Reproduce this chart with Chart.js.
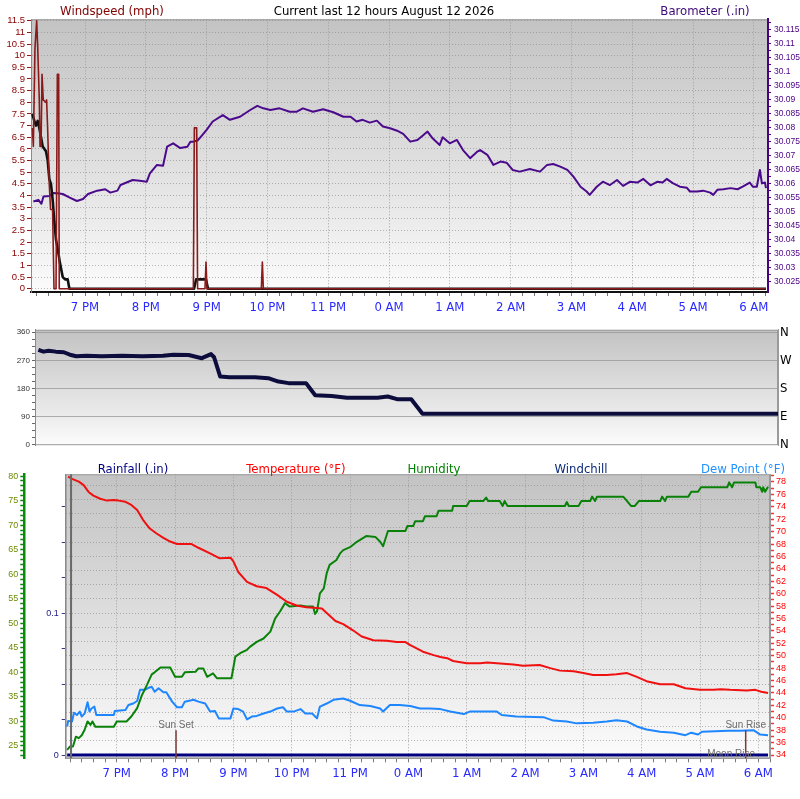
<!DOCTYPE html>
<html><head><meta charset="utf-8">
<script src="https://cdn.jsdelivr.net/npm/chart.js@4.4.1/dist/chart.umd.min.js"></script>
<style>
html,body{margin:0;padding:0;background:#fff;}
body{position:relative;width:800px;height:799px;overflow:hidden;}
canvas{position:absolute;left:0;}
.t{position:absolute;white-space:nowrap;transform:translate(-50%,-50%);font:13px 'Liberation Sans Narrow','DejaVu Sans Condensed','Liberation Sans',Arial,sans-serif;line-height:1;}
</style></head><body>
<canvas id="c1" width="800" height="320" style="top:0"></canvas>
<canvas id="c2" width="800" height="135" style="top:320px"></canvas>
<canvas id="c3" width="800" height="344" style="top:455px"></canvas>
<div class="t" style="left:112px;top:10px;color:#800000">Windspeed (mph)</div>
<div class="t" style="left:384px;top:10px;color:#000">Current last 12 hours August 12 2026</div>
<div class="t" style="left:705px;top:10px;color:#3c0a78">Barometer (.in)</div>
<div class="t" style="left:133px;top:468px;color:#000080">Rainfall (.in)</div>
<div class="t" style="left:296px;top:468px;color:#ff0000">Temperature (°F)</div>
<div class="t" style="left:434px;top:468px;color:#008000">Humidity</div>
<div class="t" style="left:581px;top:468px;color:#0a2a7a">Windchill</div>
<div class="t" style="left:743px;top:468px;color:#1e90ff">Dew Point (°F)</div>
<script>
// ---------- DATA (times are minutes after 18:00) ----------
const hourTicks=[60,120,180,240,300,360,420,480,540,600,660,720];
const hourLabels=['7 PM','8 PM','9 PM','10 PM','11 PM','0 AM','1 AM','2 AM','3 AM','4 AM','5 AM','6 AM'];

const windTicks=[0,0.5,1,1.5,2,2.5,3,3.5,4,4.5,5,5.5,6,6.5,7,7.5,8,8.5,9,9.5,10,10.5,11,11.5];
const baroTicks=[30.025,30.03,30.035,30.04,30.045,30.05,30.055,30.06,30.065,30.07,30.075,30.08,30.085,30.09,30.095,30.1,30.105,30.11,30.115];

const gustTime=[8,9,10.6,12.3,13.3,14.9,15.6,16.6,17.6,18.8,21.2,22.1,23.1,24.7,26,28,29.4,31.4,32.7,34,34.6,166.9,167.9,170.2,171.1,178.4,179.4,180.4,234,235,236,732];
const gustVal=[6.9,6.1,10.3,11.5,10.4,8.1,6.1,6.1,9.2,8.1,8.0,8.1,6.9,4.5,3.4,3.4,0,0,9.2,9.2,0,0,6.9,6.9,0,0,1.15,0,0,1.15,0,0];

const avgTime=[8,10,11.6,13.3,14.9,16.6,18.2,19.9,21.5,23.2,24.8,26.4,28.1,29.7,31.4,33.1,35.3,38,40.3,42.9,44.6,167.6,169.6,179.4,181.4,732];
const avgVal=[7.5,7.2,7.0,7.2,6.9,6.5,6.1,6.0,5.9,5.5,4.7,4.5,3.8,2.9,2.1,1.7,1.1,0.5,0.4,0.4,0,0,0.4,0.4,0,0];

const baroTime=[9,14,17,19,25,28,33,38,45,52,58,63,72,80,85,92,95,101,107,114,121,124,131,137,141,147,154,161,164,167,171,173,180,186,196,203,213,223,230,236,243,252,262,269,275,285,295,305,315,322,328,334,341,348,354,361,368,374,381,388,394,398,403,410,413,417,420,427,433,440,447,450,457,463,470,476,482,489,499,509,516,522,529,536,542,549,555,558,565,571,578,585,591,598,605,611,618,625,630,634,640,647,654,657,664,670,677,680,684,690,697,704,709,716,719,723,726,728,731,732];
const baroVal=[30.0537,30.0543,30.0529,30.0555,30.0557,30.0568,30.0567,30.0564,30.0551,30.0539,
30.0546,30.0564,30.0576,30.0581,30.0569,30.0576,30.0596,30.0605,30.0614,30.0611,
30.0608,30.0638,30.0668,30.0665,30.0733,30.0745,30.0728,30.0733,30.0751,30.0751,
30.0755,30.0763,30.0793,30.0823,30.0846,30.0829,30.0840,30.0864,30.0879,30.0870,
30.0864,30.0870,30.0858,30.0858,30.0870,30.0858,30.0867,30.0856,30.0840,30.0840,
30.0823,30.0829,30.0819,30.0826,30.0805,30.0799,30.0790,30.0779,30.0751,30.0757,
30.0775,30.0787,30.0763,30.0739,30.0767,30.0754,30.0745,30.0757,30.0721,30.0692,
30.0715,30.0721,30.0704,30.0668,30.0680,30.0676,30.0650,30.0644,30.0653,30.0644,
30.0668,30.0671,30.0662,30.0650,30.0626,30.0590,30.0573,30.0561,30.0590,30.0608,
30.0596,30.0614,30.0593,30.0608,30.0605,30.0618,30.0595,30.0608,30.0605,30.0618,
30.0603,30.0590,30.0586,30.0573,30.0573,30.0576,30.0569,30.0561,30.0579,30.0581,
30.0585,30.0581,30.0590,30.0605,30.0590,30.0590,30.0650,30.0602,30.0605,30.0585];

const dirTicks=[0,90,180,270,360];
const compass=['N','E','S','W','N'];
const dirTime=[10,15,20,27,35,42,47,57,72,92,112,132,142,157,170,179,182,188,197,222,235,245,255,272,281,297,312,342,352,362,375,386,734];
const dirVal=[304,298,301,298,296,287,283,285,283,285,283,285,288,287,277,290,280,218,216,216,213,202,197,197,158,156,150,150,154,145,145,99,99];

const humTicks=[25,30,35,40,45,50,55,60,65,70,75,80];
const tempTicks=[34,36,38,40,42,44,46,48,50,52,54,56,58,60,62,64,66,68,70,72,74,76,78];
const rainTicks=[0,0.025,0.05,0.075,0.1,0.125,0.15,0.175];
const rainLabels=[0,0.1];
const rainGrid=[0.01,0.02,0.03,0.04,0.05,0.06,0.07,0.08,0.09,0.1,0.11,0.12,0.13,0.14,0.15,0.16,0.17,0.18,0.19];

const tempTime=[10,14,21,26,31,36,43,50,57,62,69,75,81,87,94,101,108,115,122,129,137,144,156,166,177,180,185,194,204,214,225,235,245,255,266,271,278,285,293,303,312,324,338,348,357,362,375,386,393,400,406,420,434,441,451,468,478,495,506,516,530,540,550,564,574,585,595,605,619,633,645,660,674,681,691,708,717,723,730];
const tempVal=[78.85,78.5,78.05,77.5,76.4,75.8,75.3,75.0,75.1,75.0,74.8,74.3,73.5,71.9,70.5,69.7,69.0,68.4,68.0,68.0,68.0,67.4,66.5,65.7,65.8,65.2,63.5,61.9,61.2,60.9,59.8,58.7,58.1,57.8,57.7,57.6,56.6,55.6,55.1,54.1,53.1,52.5,52.4,52.2,52.2,51.7,50.65,50.1,49.8,49.6,49.15,48.8,48.8,48.9,48.8,48.6,48.4,48.5,48.0,47.6,47.5,47.2,46.9,46.9,47.0,47.2,46.6,45.9,45.4,45.4,44.75,44.5,44.5,44.6,44.5,44.4,44.5,44.2,44.0];

const humTime=[9,12,15,18,21,24,27,30,33,35,38,57,60,70,75,81,86,91,96,99,105,115,120,127,130,141,144,149,153,159,163,178,182,187,194,197,204,211,218,223,228,233,238,249,255,262,264,266,269,273,276,279,286,290,293,300,307,317,326,331,334,339,357,359,365,367,375,377,389,391,405,406,420,423,437,440,442,454,457,459,462,521,523,525,535,538,547,549,552,554,581,585,589,593,597,619,621,624,626,648,651,658,661,688,690,693,695,717,718,722,724,725,727,730];
const humVal=[24.2,24.9,24.9,26.9,26.6,27.2,28.3,30.0,29.3,30.0,28.9,28.9,30.0,30.0,31.0,32.7,35.4,37.4,39.6,40.0,41.0,41.0,39.1,39.1,40.0,40.1,40.8,40.8,39.1,39.8,38.8,38.8,43.2,43.9,44.6,45.2,46.2,46.9,48.3,51.0,52.4,54.1,53.4,53.6,53.4,53.4,51.9,52.4,56.1,57.1,60.2,61.9,62.9,64.3,64.9,65.5,66.6,67.8,67.6,66.6,65.7,68.8,68.8,69.8,69.8,70.8,70.8,71.8,71.8,72.9,72.9,73.9,73.9,74.9,74.9,75.6,74.9,74.9,73.9,74.9,73.9,73.9,74.7,73.9,73.9,74.9,74.9,75.8,74.9,75.8,75.8,74.9,73.9,73.9,74.9,74.9,75.8,74.9,75.8,75.8,76.8,76.8,77.7,77.7,78.7,77.7,78.7,78.7,77.7,77.7,76.8,77.7,76.8,77.8];

const dewTime=[9,10,14,16,19,22,24,27,30,32,34,37,39,57,58,69,72,77,81,84,89,93,96,99,103,108,111,117,122,127,130,139,144,151,156,161,165,177,180,185,190,194,199,204,211,218,225,231,235,242,249,254,261,266,269,276,283,293,300,310,321,331,334,341,351,362,372,382,393,403,417,423,451,456,471,499,509,523,533,550,564,574,585,595,605,619,633,645,651,658,662,689,701,715,722,730];
const dewVal=[38.6,39.5,39.4,40.8,40.45,41.0,40.2,40.7,42.5,41.0,41.5,41.8,40.45,40.45,41.1,41.25,42.05,42.3,42.7,44.5,44.5,44.85,45.0,44.2,44.75,44.1,44.1,42.6,41.7,41.7,42.6,42.9,42.6,42.3,41.0,41.1,39.9,39.9,41.5,41.4,41.0,39.75,40.2,40.3,40.7,41.0,41.5,41.7,41.0,41.0,41.4,40.7,40.7,39.9,41.8,42.3,42.9,43.1,42.75,42.05,41.9,41.5,41.0,42.05,42.05,41.9,41.5,41.5,41.4,41.0,40.6,41.0,41.0,40.45,40.2,40.1,39.55,39.4,39.1,39.2,39.4,39.6,39.4,38.6,38.1,37.75,37.6,37.2,37.6,37.3,37.75,37.9,37.9,38.0,37.3,37.2];

const rainTime=[9,730];
const rainVal=[0,0];

const eventNames=['Sun Set','Sun Rise'];
const eventTimes=[121,707];
const moonName='Moon Rise';
const moonTime=692;
const rainStartTime=13;

// ---------- HELPERS ----------
const NARROW="'Liberation Sans Narrow','DejaVu Sans Condensed','Liberation Sans',Arial,sans-serif";
Chart.defaults.font.family="'Liberation Sans',Arial,sans-serif";
const pts=(t,v)=>t.map((x,i)=>({x:x,y:v[i]}));
const near=(a,v)=>a.findIndex(q=>Math.abs(q-v)<1e-7);
const GRID='rgba(135,135,135,0.6)';

const bgPlugin={id:'bg',beforeDraw(chart){
  const {ctx,chartArea:a}=chart;
  const g=ctx.createLinearGradient(0,a.top,0,a.bottom);
  g.addColorStop(0,'#c3c3c3');g.addColorStop(0.4,'#d8d8d8');g.addColorStop(0.75,'#ececec');g.addColorStop(1,'#fcfcfc');
  ctx.save();ctx.fillStyle=g;ctx.fillRect(a.left,a.top,a.right-a.left,a.bottom-a.top);
  ctx.strokeStyle='#9a9a9a';ctx.lineWidth=1;ctx.strokeRect(a.left+0.5,a.top+0.5,a.right-a.left-1,a.bottom-a.top-1);
  ctx.restore();}};

function timeAxis(min,max,h,borderColor,borderWidth){
  return {type:'linear',min:min,max:max,
    afterBuildTicks:s=>{const t=[];for(let v=Math.ceil(min/12)*12;v<=max;v+=12)t.push({value:v});s.ticks=t;},
    afterFit:s=>{s.height=h;},
    ticks:{autoSkip:false,maxRotation:0,minRotation:0,padding:4,color:'#2a2aff',font:{size:13,family:NARROW},
      callback:v=>{const i=hourTicks.indexOf(v);return i<0?'':hourLabels[i];}},
    grid:{color:c=>(c.tick&&hourTicks.indexOf(c.tick.value)>=0)?'rgba(150,150,150,0.85)':'rgba(0,0,0,0)',tickColor:'#777',tickLength:4,lineWidth:1},
    border:{color:borderColor,width:borderWidth,dash:[1,2]}};
}
const common={responsive:false,animation:false,events:[],
  plugins:{legend:{display:false},tooltip:{enabled:false},title:{display:false}},
  elements:{point:{radius:0},line:{tension:0,borderJoinStyle:'round'}}};

// ---------- TOP: windspeed + barometer ----------
new Chart(document.getElementById('c1'),{type:'line',plugins:[bgPlugin],
  data:{datasets:[
    {data:pts(gustTime,gustVal),yAxisID:'yw',borderColor:'#8b1a1a',borderWidth:1.6,order:0},
    {data:pts(avgTime,avgVal),yAxisID:'yw',borderColor:'#111',borderWidth:2.6,order:1},
    {data:pts(baroTime,baroVal),yAxisID:'yb',borderColor:'#4b0a8c',borderWidth:2,order:2}
  ]},
  options:Object.assign({},common,{layout:{padding:{top:19.3,left:0,right:0,bottom:0}},
    scales:{
      x:timeAxis(6.7,734,28,'#111',2),
      yw:{position:'left',min:-0.14,max:11.56,
        afterBuildTicks:s=>{s.ticks=windTicks.map(v=>({value:v}));},
        afterFit:s=>{s.width=31;},
        ticks:{autoSkip:false,color:'#8b0000',font:{size:9.5},padding:2,callback:v=>String(v)},
        grid:{color:GRID,tickColor:'#8b1a1a',tickLength:4},
        border:{color:'#8a8a8a',width:1,dash:[1,2]}},
      yb:{position:'right',min:30.0214,max:30.1188,
        afterBuildTicks:s=>{const t=[];baroTicks.forEach(v=>{t.push({value:v});if(v+0.0025<30.1188)t.push({value:v+0.0025});});s.ticks=t;},
        afterFit:s=>{s.width=32;},
        ticks:{autoSkip:false,color:'#4b0082',font:{size:8.5},padding:3,callback:v=>{const i=near(baroTicks,v);return i<0?'':String(+baroTicks[i].toFixed(3));}},
        grid:{drawOnChartArea:false,tickColor:'#4b0082',tickLength:3},
        border:{color:'#4b0082',width:2}}
    }})
});

// ---------- MIDDLE: wind direction ----------
new Chart(document.getElementById('c2'),{type:'line',plugins:[bgPlugin],
  data:{datasets:[{data:pts(dirTime,dirVal),yAxisID:'yd',borderColor:'#0d0d3d',borderWidth:4}]},
  options:Object.assign({},common,{layout:{padding:{top:6.7,bottom:9.3,left:0,right:0}},
    scales:{
      x:{type:'linear',min:6.7,max:734,display:false},
      yd:{position:'left',min:-2,max:368,
        afterBuildTicks:s=>{const t=[];dirTicks.forEach((v,i)=>{t.push({value:v});if(i<dirTicks.length-1){t.push({value:v+22.5});t.push({value:v+45});t.push({value:v+67.5});}});s.ticks=t;},
        afterFit:s=>{s.width=35;},
        ticks:{autoSkip:false,color:'#333',font:{size:8},padding:2,callback:v=>{const i=dirTicks.indexOf(v);return i<0?'':String(v);}},
        grid:{color:c=>(c.tick&&dirTicks.indexOf(c.tick.value)>0)?'rgba(150,150,150,0.75)':'rgba(0,0,0,0)',tickColor:'#666',tickLength:3},
        border:{color:'#8a8a8a',width:1}},
      yc:{position:'right',min:-2,max:368,
        afterBuildTicks:s=>{s.ticks=dirTicks.map(v=>({value:v}));},
        afterFit:s=>{s.width=22;},
        ticks:{autoSkip:false,color:'#000',font:{size:13,family:NARROW},padding:2,callback:v=>{const i=dirTicks.indexOf(v);return i<0?'':compass[i];}},
        grid:{drawOnChartArea:false,drawTicks:false},
        border:{color:'#9a9a9a',width:1}}
    }})
});

// ---------- BOTTOM: rain, temperature, humidity, dew point ----------
const markerPlugin={id:'markers',afterDatasetsDraw(chart){
  const {ctx,chartArea:a,scales:{x}}=chart;
  ctx.save();
  const xs=x.getPixelForValue(rainStartTime);
  ctx.strokeStyle='#6a6a6a';ctx.lineWidth=2;ctx.beginPath();ctx.moveTo(xs,a.top);ctx.lineTo(xs,a.bottom);ctx.stroke();
  ctx.font="10px 'Liberation Sans',Arial,sans-serif";ctx.textAlign='center';ctx.textBaseline='middle';
  eventNames.forEach((n,i)=>{const px=x.getPixelForValue(eventTimes[i]);
    ctx.strokeStyle='#7a3838';ctx.lineWidth=1.5;ctx.beginPath();ctx.moveTo(px,a.bottom-28);ctx.lineTo(px,a.bottom);ctx.stroke();
    ctx.fillStyle='#6e6e6e';ctx.fillText(n,px,a.bottom-33);});
  const pm=x.getPixelForValue(moonTime);
  ctx.fillStyle='#6e6e6e';ctx.fillText(moonName,pm,a.bottom-4);
  ctx.restore();}};

new Chart(document.getElementById('c3'),{type:'line',plugins:[bgPlugin,markerPlugin],
  data:{datasets:[
    {data:pts(rainTime,rainVal),yAxisID:'yr',borderColor:'#000080',borderWidth:3,order:0},
    {data:pts(tempTime,tempVal),yAxisID:'yt',borderColor:'#f01010',borderWidth:2,order:1},
    {data:pts(humTime,humVal),yAxisID:'yh',borderColor:'#0a820a',borderWidth:2,order:2},
    {data:pts(dewTime,dewVal),yAxisID:'yt',borderColor:'#1e86ff',borderWidth:2,order:3}
  ]},
  options:Object.assign({},common,{layout:{padding:{top:19.3,left:0,right:0,bottom:0}},
    scales:{
      x:timeAxis(7.5,732,40.7,'#9a9a9a',1),
      yg:{position:'left',weight:-1,min:-0.0023,max:0.1977,
        afterBuildTicks:s=>{s.ticks=rainGrid.map(v=>({value:v}));},
        afterFit:s=>{s.width=0;},
        ticks:{display:false},grid:{color:GRID,drawTicks:false},border:{display:false,dash:[1,2]}},
      yr:{position:'left',weight:0,min:-0.0023,max:0.1977,
        afterBuildTicks:s=>{s.ticks=rainTicks.map(v=>({value:v}));},
        afterFit:s=>{s.width=41.4;},
        ticks:{autoSkip:false,color:'#1a1a80',font:{size:9},padding:3,callback:v=>{const i=near(rainLabels,v);return i<0?'':String(rainLabels[i]);}},
        grid:{drawOnChartArea:false,tickColor:'#3a3a8a',tickLength:4},
        border:{color:'#8a8a8a',width:1}},
      yh:{position:'left',weight:1,min:22.49,max:80.35,
        afterBuildTicks:s=>{const t=[];for(let v=23;v<=80;v++)t.push({value:v});s.ticks=t;},
        afterFit:s=>{s.width=24.3;},
        ticks:{autoSkip:false,color:'#6b8a00',font:{size:9},padding:2,callback:v=>humTicks.indexOf(v)<0?'':String(v)},
        grid:{drawOnChartArea:false,tickColor:'#0a8a0a',tickLength:4,tickWidth:1.5},
        border:{color:'#0a8a0a',width:2.5}},
      yt:{position:'right',min:33.47,max:79.24,
        afterBuildTicks:s=>{const t=[];tempTicks.forEach(v=>{t.push({value:v});if(v+1<79.24)t.push({value:v+1});});s.ticks=t;},
        afterFit:s=>{s.width=30;},
        ticks:{autoSkip:false,color:'#ff0000',font:{size:9},padding:2,callback:v=>tempTicks.indexOf(v)<0?'':String(v)},
        grid:{drawOnChartArea:false,tickColor:'#ff3030',tickLength:4,tickWidth:1.5},
        border:{color:'#9a9a9a',width:1}}
    }})
});
</script>
</body></html>
